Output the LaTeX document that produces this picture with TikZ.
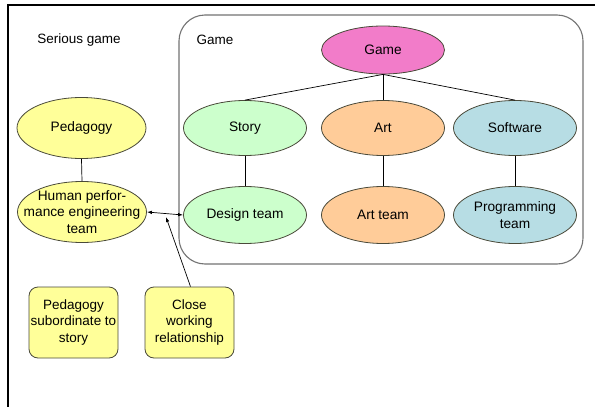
\documentclass[tikz,border=0pt]{standalone}
\usepackage{fontspec}
\setmainfont{Liberation Sans}
\usetikzlibrary{shapes.geometric,arrows.meta}
\definecolor{ylw}{HTML}{FFFF99}
\definecolor{grn}{HTML}{CCFFCC}
\definecolor{org}{HTML}{FFCC99}
\definecolor{blu}{HTML}{B7DDE4}
\definecolor{pnk}{HTML}{F27CC9}
\definecolor{edge}{HTML}{4A4A3A}
\tikzset{
  ell/.style={ellipse, draw=edge, line width=0.8pt, minimum width=#1, inner sep=0pt, align=center, font=\fontsize{13.7}{16.5}\selectfont},
  ell/.default=126pt,
  box/.style={rectangle, rounded corners=9pt, draw=edge, line width=0.8pt, fill=ylw, minimum width=89pt, minimum height=71pt, inner sep=0pt, align=center, font=\fontsize{13.5}{16.5}\selectfont},
  lbl/.style={font=\fontsize{13.5}{16.5}\selectfont, inner sep=0pt},
  conn/.style={draw=black, line width=0.7pt},
  tip/.style={-{Latex[length=5pt,width=3.5pt]}}
}
\begin{document}
\begin{tikzpicture}[x=1pt,y=-1pt]
\useasboundingbox (0,0) rectangle (595,407);
\fill[white] (0,0) rectangle (595,407);
% outer frame
\draw[line width=1.5pt] (8,407) -- (8,5) -- (595,5);
% game container
\draw[draw=gray!90!black, line width=1.1pt, rounded corners=26pt] (179,15) rectangle (583,264);
\node[lbl] (sg) at (79,40) {Serious game};
\node[lbl] (gl) at (215,40) {Game};
% ellipses
\node[ell=123pt, fill=pnk, minimum height=48pt] (game) at (383,50) {Game};
\node[ell=123pt, fill=grn, minimum height=55pt] (story) at (245,128) {Story};
\node[ell=123pt, fill=org, minimum height=55pt] (art) at (383,128) {Art};
\node[ell=123pt, fill=blu, minimum height=55pt] (soft) at (515,128) {Software};
\node[ell=123pt, fill=grn, minimum height=57pt] (design) at (245,215) {Design team};
\node[ell=123pt, fill=org, minimum height=57pt] (artteam) at (383,215) {Art team};
\node[ell=123pt, fill=blu, minimum height=57pt] (prog) at (515,215) {Programming\\team};
\node[ell=129pt, fill=ylw, minimum height=61pt] (ped) at (81.5,128) {Pedagogy};
\node[ell=129pt, fill=ylw, minimum height=61pt, inner xsep=-14pt, inner ysep=-5pt] (hpe) at (82,212) {Human perfor-\\mance engineering\\team};
% boxes
\node[box] (sub) at (73.5,322.5) {Pedagogy\\subordinate to\\story};
\node[box] (close) at (189.5,322.5) {Close\\working\\relationship};
% connectors
\draw[conn] (game.south) -- (story.north);
\draw[conn] (game.south) -- (art.north);
\draw[conn] (game.south) -- (soft.north);
\draw[conn] (story.south) -- (design.north);
\draw[conn] (art.south) -- (artteam.north);
\draw[conn] (soft.south) -- (prog.north);
\draw[conn] (ped.south) -- (hpe.north);
\draw[conn, {Latex[length=5pt,width=3.5pt]}-{Latex[length=5pt,width=3.5pt]}] (hpe.east) -- (design.west);
\coordinate (hit) at (166,217);
\draw[conn, tip] (close.north) ++(1,0) -- (hit);
\end{tikzpicture}
\end{document}
